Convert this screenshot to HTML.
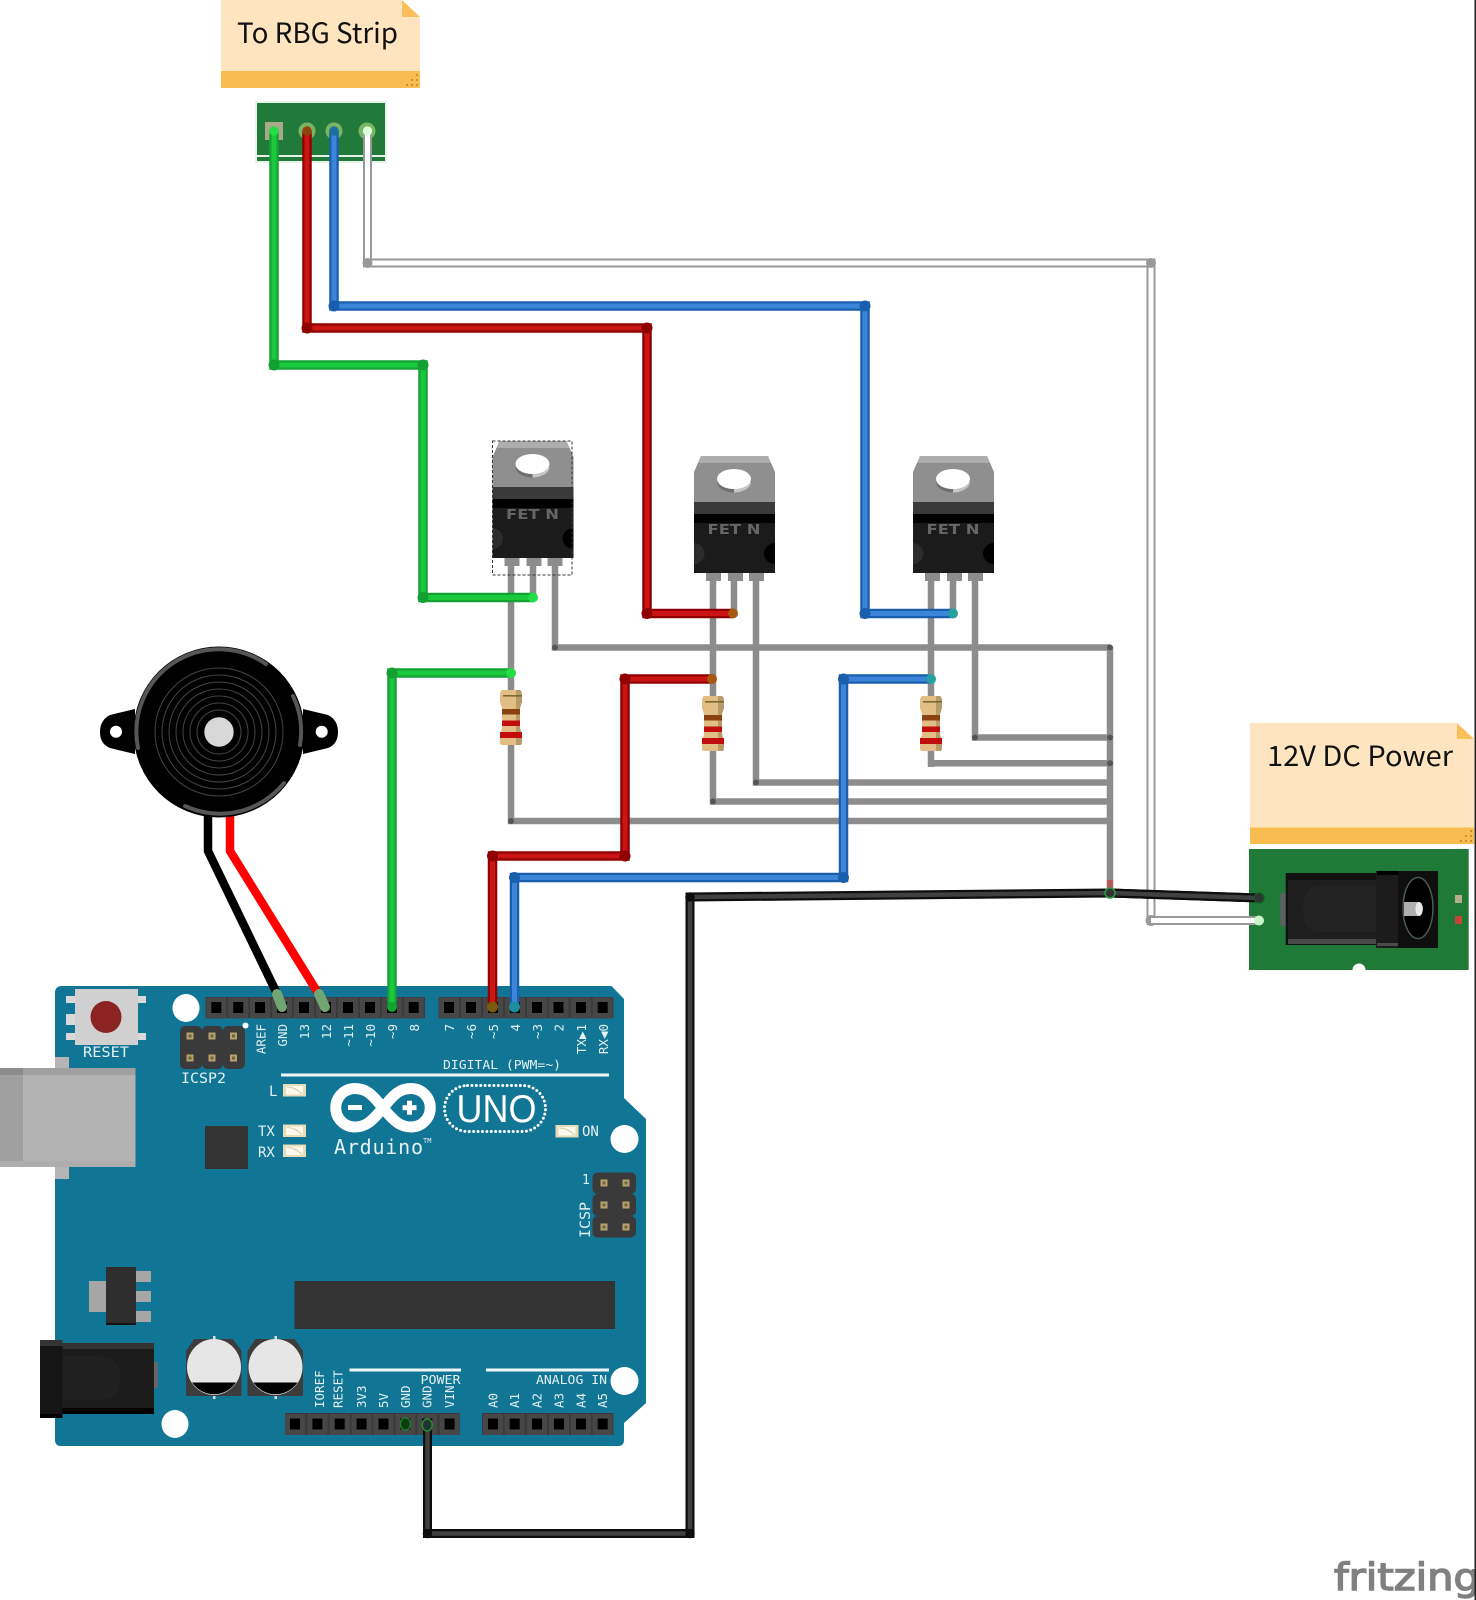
<!DOCTYPE html>
<html><head><meta charset="utf-8"><title>Fritzing diagram</title>
<style>
html,body{margin:0;padding:0;background:#fff}
svg{display:block}
.n{font-family:"Noto Sans CJK SC","Liberation Sans",sans-serif;font-size:28px;fill:#111}
.m{font-family:"DejaVu Sans Mono","Liberation Mono",monospace;fill:#e4f1f1;font-size:12.5px}
.g1{fill:none;stroke:#14a332;stroke-width:9.5}.g2{fill:none;stroke:#1cc93e;stroke-width:5}
.r1{fill:none;stroke:#8f0000;stroke-width:9.5}.r2{fill:none;stroke:#cc1414;stroke-width:5}
.b1{fill:none;stroke:#1a5fae;stroke-width:9.5}.b2{fill:none;stroke:#3d85d9;stroke-width:5}
.w1{fill:none;stroke:#999;stroke-width:9}.w2{fill:none;stroke:#fff;stroke-width:5}
.k1{fill:none;stroke:#0d0d0d;stroke-width:9}.k2{fill:none;stroke:#404040;stroke-width:4.5}
.e{fill:none;stroke:#8c8c8c;stroke-width:6.5}
</style></head><body>
<svg width="1476" height="1600" viewBox="0 0 1476 1600" xmlns="http://www.w3.org/2000/svg">
<defs>
<g id="p"><rect x="-10" y="-10" width="20" height="21" fill="#474747"/><rect x="-5" y="-5.5" width="10" height="11" fill="#000"/></g>
<g id="gp"><rect x="-3.5" y="-3.5" width="7" height="7" fill="#b7a26e"/><rect x="-1.5" y="-1.5" width="3" height="3" fill="#6f6443"/></g>
<g id="led"><rect width="23" height="12.5" fill="#e6dcb8"/><rect x="3" y="2" width="17" height="8.5" fill="#fbf8ee"/><path d="M4 3 Q12 3 19 10" fill="none" stroke="#d8c9a0" stroke-width="1"/></g>
<g id="res">
<path d="M-9,0 L9,0 Q11,1 11,6 L11,12 Q10,15 9,18 L9,38 Q10,42 11,46 L11,52 Q11,55 9,55 L-9,55 Q-11,55 -11,52 L-11,46 Q-10,42 -9,38 L-9,18 Q-10,15 -11,12 L-11,6 Q-11,1 -9,0Z" fill="#e2be84"/>
<path d="M5,0 L9,0 Q11,1 11,6 L11,12 Q10,15 9,18 L9,38 Q10,42 11,46 L11,52 Q11,55 9,55 L5,55Z" fill="#b79a6a"/>
<rect x="-8" y="5" width="19" height="1.6" fill="#7a6a30"/>
<rect x="-9" y="19" width="18" height="5.5" fill="#8a4210"/>
<rect x="-9" y="30.500" width="18" height="5.5" fill="#c20d0d"/>
<rect x="-11" y="42" width="22" height="6" fill="#c20d0d"/>
</g>
<g id="fet">
<rect x="12" y="117" width="15" height="8" fill="#8c8c8c"/><rect x="34" y="117" width="15" height="8" fill="#8c8c8c"/><rect x="55" y="117" width="15" height="8" fill="#8c8c8c"/>
<polygon points="0,16 7,0 74,0 81,16 81,46 0,46" fill="#8f8f8f"/>
<polygon points="7,0 74,0 77,7 4,7" fill="#adadad"/>
<ellipse cx="40" cy="26" rx="17" ry="10.500" fill="#6f6f6f"/>
<path d="M40,36.500 A17,10.500 0 0 0 57,26 L40,26Z" fill="#c6c6c6"/>
<ellipse cx="40" cy="23" rx="17" ry="10" fill="#fff"/>
<rect y="46" width="81" height="12.500" fill="#3a3a3a"/>
<rect y="58" width="81" height="9.500" fill="#000"/>
<rect y="67" width="81" height="50" fill="#1b1b1b"/>
<path d="M0,87 A10.500,10.500 0 0 1 0,108Z" fill="#2c2c2c"/>
<path d="M81,87 A11,10.500 0 0 0 81,108Z" fill="#000"/>
</g>
<g id="cap"><polygon points="8,0 47,0 55.500,12 55.500,57 0,57 0,12" fill="#3c3c3c"/><rect x="27" y="-3" width="2.500" height="3" fill="#ddd"/><rect x="27" y="57" width="2.500" height="3" fill="#ddd"/><ellipse cx="28" cy="28" rx="27" ry="28" fill="#e6e6e6"/><path d="M6,43.500 L50,43.500 A27,28 0 0 1 6,43.500Z" fill="#000"/></g>
</defs>

<rect width="1476" height="1600" fill="#fff"/>
<rect x="1474.500" y="0" width="1.500" height="1600" fill="#222"/>

<!-- Note 1 -->
<polygon points="221,0 402,0 420,18 420,88 221,88" fill="#fee5c0"/>
<polygon points="402,0 420,17 402,17" fill="#fbbf5c"/>
<rect x="221" y="71" width="199" height="17" fill="#f9bc50"/>
<g fill="#c98f3a"><rect x="416" y="74" width="2" height="2"/><rect x="411" y="79" width="2" height="2"/><rect x="416" y="79" width="2" height="2"/><rect x="406" y="84" width="2" height="2"/><rect x="411" y="84" width="2" height="2"/><rect x="416" y="84" width="2" height="2"/></g>
<text class="n" x="237" y="43" textLength="161" lengthAdjust="spacingAndGlyphs">To RBG Strip</text>

<!-- Strip header -->
<rect x="255" y="101" width="132" height="62" fill="#e6f4ea"/>
<rect x="257" y="103" width="128" height="58" fill="#217a39"/>
<rect x="257" y="155" width="128" height="2" fill="#e4f4e8"/>
<rect x="265" y="122" width="18" height="18" fill="#a9a98a"/>
<circle cx="307" cy="131" r="8.500" fill="#79b565"/><circle cx="334" cy="131" r="8.500" fill="#79b565"/><circle cx="367" cy="131" r="8.500" fill="#79b565"/>

<!-- Arduino -->
<path d="M62,986 L611.500,986 L624,999 L624,1098 L646,1119 L646,1403 L624,1423 L624,1440 Q624,1446 618,1446 L61,1446 Q55,1446 55,1440 L55,993 Q55,986 62,986Z" fill="#117595"/>
<!-- USB -->
<rect x="55" y="1057" width="14" height="122" fill="#b5b5b5"/>
<rect x="0" y="1068" width="135.500" height="99" fill="#b3b3b3"/>
<rect x="0" y="1068" width="23" height="99" fill="#a0a0a0"/>
<rect x="0" y="1068" width="135.500" height="7" fill="#a0a0a0"/>
<rect x="0" y="1068" width="23" height="7" fill="#8c8c8c"/>
<rect x="0" y="1161" width="135.500" height="6" fill="#adadad"/>
<!-- Reset -->
<g fill="#d9d9d9"><rect x="66" y="996" width="10" height="7"/><rect x="66" y="1014" width="10" height="11"/><rect x="66" y="1033" width="10" height="7"/><rect x="137" y="996" width="9" height="7"/><rect x="137" y="1033" width="9" height="7"/></g>
<rect x="75" y="989" width="63" height="56" fill="#d0d0d0"/>
<ellipse cx="106" cy="1017" rx="15.500" ry="16" fill="#8b2323"/>
<text class="m" x="106" y="1057" text-anchor="middle" font-size="14" style="font-size:14px" textLength="46" lengthAdjust="spacingAndGlyphs">RESET</text>
<!-- holes -->
<ellipse cx="186" cy="1008" rx="13.500" ry="14" fill="#fff"/>
<ellipse cx="624.500" cy="1139" rx="14" ry="14" fill="#fff"/>
<ellipse cx="175" cy="1424" rx="13.500" ry="14" fill="#fff"/>
<ellipse cx="624.500" cy="1381" rx="14" ry="14" fill="#fff"/>
<!-- Top headers -->
<rect x="205.500" y="997" width="219.500" height="21" fill="#3a3a3a"/>
<rect x="438.500" y="997" width="175" height="21" fill="#3a3a3a"/>
<use href="#p" x="216.300" y="1007.500"/><use href="#p" x="238.200" y="1007.500"/><use href="#p" x="260" y="1007.500"/><use href="#p" x="282" y="1007.500"/><use href="#p" x="304" y="1007.500"/><use href="#p" x="326" y="1007.500"/><use href="#p" x="348" y="1007.500"/><use href="#p" x="370" y="1007.500"/><use href="#p" x="392" y="1007.500"/><use href="#p" x="413.700" y="1007.500"/>
<use href="#p" x="449" y="1007.500"/><use href="#p" x="471" y="1007.500"/><use href="#p" x="493" y="1007.500"/><use href="#p" x="515" y="1007.500"/><use href="#p" x="537" y="1007.500"/><use href="#p" x="558.500" y="1007.500"/><use href="#p" x="581" y="1007.500"/><use href="#p" x="602.700" y="1007.500"/>
<!-- Top labels -->
<g class="m" text-anchor="end">
<text transform="translate(265.500,1024) rotate(-90)">AREF</text>
<text transform="translate(287,1024) rotate(-90)">GND</text>
<text transform="translate(309,1024) rotate(-90)">13</text>
<text transform="translate(331,1024) rotate(-90)">12</text>
<text transform="translate(353,1024) rotate(-90)">~11</text>
<text transform="translate(375,1024) rotate(-90)">~10</text>
<text transform="translate(397,1024) rotate(-90)">~9</text>
<text transform="translate(419,1024) rotate(-90)">8</text>
<text transform="translate(454,1024) rotate(-90)">7</text>
<text transform="translate(476,1024) rotate(-90)">~6</text>
<text transform="translate(498,1024) rotate(-90)">~5</text>
<text transform="translate(520,1024) rotate(-90)">4</text>
<text transform="translate(542,1024) rotate(-90)">~3</text>
<text transform="translate(563.500,1024) rotate(-90)">2</text>
<text transform="translate(586,1024) rotate(-90)">TX▶1</text>
<text transform="translate(608,1024) rotate(-90)">RX◀0</text>
</g>
<text class="m" x="443" y="1069" textLength="118" lengthAdjust="spacingAndGlyphs">DIGITAL (PWM=~)</text>
<rect x="281" y="1073.500" width="328" height="3" fill="#eef7f7"/>
<!-- ICSP2 -->
<rect x="180" y="1026" width="22" height="43" rx="5" fill="#3a3a3a"/><rect x="202" y="1026" width="21" height="43" rx="5" fill="#3a3a3a"/><rect x="223" y="1026" width="22" height="43" rx="5" fill="#3a3a3a"/>
<use href="#gp" x="190" y="1036"/><use href="#gp" x="212" y="1036"/><use href="#gp" x="233.500" y="1036"/><use href="#gp" x="190" y="1058"/><use href="#gp" x="212" y="1058"/><use href="#gp" x="233.500" y="1058"/>
<circle cx="245.500" cy="1025.500" r="3" fill="#fff"/>
<text class="m" x="181" y="1083" style="font-size:14px" textLength="45" lengthAdjust="spacingAndGlyphs">ICSP2</text>
<!-- LEDs -->
<use href="#led" x="283" y="1084"/><use href="#led" x="283" y="1124.500"/><use href="#led" x="283" y="1144.500"/><use href="#led" x="555.500" y="1125"/>
<text class="m" x="269" y="1096" style="font-size:14px">L</text>
<text class="m" x="258" y="1136" style="font-size:14px">TX</text>
<text class="m" x="258" y="1157" style="font-size:14px">RX</text>
<text class="m" x="582" y="1136" style="font-size:14px">ON</text>
<rect x="205" y="1126" width="43" height="43" fill="#333"/>
<!-- Logo -->
<path d="M383,1108 C372,1094 366,1088.500 355,1088.500 A19.250,19.250 0 1 0 355,1127 C366,1127 372,1121 383,1108 C394,1094 400,1088.500 411,1088.500 A19.250,19.250 0 1 1 411,1127 C400,1127 394,1121 383,1108Z" fill="none" stroke="#fff" stroke-width="11"/>
<rect x="348" y="1105" width="14" height="5" fill="#fff"/>
<rect x="402.500" y="1105.200" width="14" height="5" fill="#fff"/><rect x="407" y="1100.700" width="5" height="14" fill="#fff"/>
<rect x="444.500" y="1085.500" width="101" height="46" rx="23" fill="none" stroke="#fff" stroke-width="3" stroke-linecap="round" stroke-dasharray="0 4.400"/>
<text x="456.500" y="1122" font-family="'Liberation Sans',sans-serif" font-size="39" fill="#fff" textLength="80" lengthAdjust="spacingAndGlyphs">UNO</text>
<text class="m" x="334" y="1154" style="font-size:20px" textLength="89" lengthAdjust="spacing">Arduino</text>
<text class="m" x="423" y="1143" style="font-size:7px">TM</text>
<!-- ICSP -->
<rect x="592.500" y="1172.500" width="43.500" height="21.500" rx="5" fill="#3a3a3a"/><rect x="592.500" y="1194" width="43.500" height="22" rx="5" fill="#3a3a3a"/><rect x="592.500" y="1216" width="43.500" height="21.500" rx="5" fill="#3a3a3a"/>
<use href="#gp" x="604" y="1183"/><use href="#gp" x="626" y="1183"/><use href="#gp" x="604" y="1205"/><use href="#gp" x="626" y="1205"/><use href="#gp" x="604" y="1227"/><use href="#gp" x="626" y="1227"/>
<text class="m" x="582" y="1184" style="font-size:13px">1</text>
<text class="m" transform="translate(590,1238) rotate(-90)" style="font-size:14px" textLength="36" lengthAdjust="spacingAndGlyphs">ICSP</text>
<!-- Regulator, chip -->
<rect x="89" y="1281" width="17" height="31" fill="#a6a6a6"/>
<rect x="136" y="1271" width="15" height="11" fill="#a6a6a6"/><rect x="136" y="1291" width="15" height="11" fill="#a6a6a6"/><rect x="136" y="1311" width="15" height="11" fill="#a6a6a6"/>
<rect x="106" y="1267" width="30" height="58" fill="#2e2e2e"/><rect x="106" y="1323" width="30" height="2" fill="#111"/>
<rect x="294.500" y="1281" width="320.500" height="48" fill="#333"/>
<!-- Jack -->
<rect x="154" y="1362" width="4" height="26" fill="#666"/>
<rect x="62" y="1343" width="92" height="71" fill="#1c1c1c"/>
<rect x="62" y="1343" width="92" height="6" fill="#333"/>
<rect x="62" y="1408" width="92" height="6" fill="#000"/>
<path d="M62,1356 L100,1356 Q120,1356 120,1378 Q120,1400 100,1400 L62,1400Z" fill="#202020"/>
<rect x="40" y="1340" width="22.500" height="78" fill="#151515"/>
<rect x="40" y="1340" width="22.500" height="6" fill="#333"/>
<rect x="40" y="1414" width="22.500" height="4" fill="#000"/>
<!-- Caps -->
<use href="#cap" x="186" y="1339"/><use href="#cap" x="247.500" y="1339"/>
<!-- Bottom -->
<rect x="349.500" y="1368.500" width="111.500" height="3" fill="#eef7f7"/>
<rect x="486" y="1368.500" width="123" height="3" fill="#eef7f7"/>
<text class="m" x="420.500" y="1384" textLength="40" lengthAdjust="spacingAndGlyphs">POWER</text>
<text class="m" x="536" y="1384" textLength="71" lengthAdjust="spacingAndGlyphs">ANALOG IN</text>
<g class="m">
<text transform="translate(324,1408) rotate(-90)">IOREF</text>
<text transform="translate(342.500,1408) rotate(-90)">RESET</text>
<text transform="translate(366,1408) rotate(-90)">3V3</text>
<text transform="translate(388,1408) rotate(-90)">5V</text>
<text transform="translate(410,1408) rotate(-90)">GND</text>
<text transform="translate(431.500,1408) rotate(-90)">GND</text>
<text transform="translate(454,1408) rotate(-90)">VIN</text>
<text transform="translate(497.500,1408) rotate(-90)">A0</text>
<text transform="translate(519,1408) rotate(-90)">A1</text>
<text transform="translate(541.500,1408) rotate(-90)">A2</text>
<text transform="translate(563.500,1408) rotate(-90)">A3</text>
<text transform="translate(585.500,1408) rotate(-90)">A4</text>
<text transform="translate(607,1408) rotate(-90)">A5</text>
</g>
<rect x="285" y="1413" width="175" height="22" fill="#3a3a3a"/>
<rect x="482" y="1413" width="131.500" height="22" fill="#3a3a3a"/>
<use href="#p" x="295" y="1424"/><use href="#p" x="317.400" y="1424"/><use href="#p" x="339.700" y="1424"/><use href="#p" x="361.600" y="1424"/><use href="#p" x="383.500" y="1424"/><use href="#p" x="405.400" y="1424"/><use href="#p" x="427.200" y="1424"/><use href="#p" x="449.600" y="1424"/>
<use href="#p" x="493" y="1424"/><use href="#p" x="514.700" y="1424"/><use href="#p" x="537" y="1424"/><use href="#p" x="559" y="1424"/><use href="#p" x="581" y="1424"/><use href="#p" x="602.700" y="1424"/>
<ellipse cx="405.400" cy="1424" rx="5" ry="6" fill="#0a3d12" stroke="#1f7a2a" stroke-width="1.500"/>

<!-- Buzzer -->
<path d="M135,709 L110,715 Q100,720 100,732 Q100,744 110,748 L135,754Z" fill="#000"/>
<path d="M303,709 L328,715 Q338,720 338,732 Q338,744 328,748 L303,754Z" fill="#000"/>
<circle cx="116" cy="731.700" r="6" fill="#fff"/><circle cx="321.700" cy="731.700" r="6" fill="#fff"/>
<path d="M208,816 L208,851 L276.700,993" fill="none" stroke="#000" stroke-width="8.500"/>
<path d="M230,816 L230,851 L318,993" fill="none" stroke="#f00" stroke-width="8.500"/>
<circle cx="219" cy="732" r="85.500" fill="#000"/>
<g fill="none" stroke="#565656" stroke-width="4" stroke-linecap="round">
<path d="M138,748 A82.500,82.500 0 0 1 266,664"/>
<path d="M293,696 A82.500,82.500 0 0 1 300,745"/>
<path d="M284,783 A82.500,82.500 0 0 1 185,806"/>
</g>
<g fill="none" stroke="#444" stroke-width="1">
<circle cx="219" cy="732" r="64"/><circle cx="219" cy="732" r="57"/><circle cx="219" cy="732" r="50"/><circle cx="219" cy="732" r="43"/><circle cx="219" cy="732" r="36"/><circle cx="219" cy="732" r="29"/><circle cx="219" cy="732" r="22"/>
</g>
<circle cx="219" cy="732" r="14.700" fill="#d8d8d8"/>
<path d="M277,994 L282,1007" stroke="#71a673" stroke-width="10" stroke-linecap="round" fill="none"/>
<path d="M319,994 L325,1007" stroke="#71a673" stroke-width="10" stroke-linecap="round" fill="none"/>

<!-- Grey wiring -->
<g class="e">
<path class="e" d="M511,565 V821 H1107"/>
<path class="e" d="M533,565 V598"/>
<path class="e" d="M555,565 V647.500 H1110"/>
<path class="e" d="M713,580 V801.500 H1107"/>
<path class="e" d="M734,580 V613"/>
<path class="e" d="M756,580 V782.500 H1107"/>
<path class="e" d="M931,580 V767 M931,763.300 H1110"/>
<path class="e" d="M953,580 V613"/>
<path class="e" d="M975,580 V737.500 H1110"/>
<path class="e" d="M1110,647 V893"/>
</g>
<g fill="#555"><circle cx="555" cy="647.500" r="3"/><circle cx="511" cy="821" r="3"/><circle cx="713" cy="801.500" r="3"/><circle cx="756" cy="782.500" r="3"/><circle cx="975" cy="737.500" r="3"/><circle cx="1110" cy="737.500" r="3"/><circle cx="1110" cy="763.300" r="3"/><circle cx="1110" cy="647.500" r="3"/></g>
<rect x="1107" y="880" width="6" height="8" fill="#b85a5a"/>

<!-- FETs -->
<use href="#fet" x="492.500" y="441"/><use href="#fet" x="694" y="456"/><use href="#fet" x="913" y="456"/>
<g font-family="'DejaVu Sans','Liberation Sans',sans-serif" font-weight="bold" font-size="13" fill="#666" text-anchor="middle">
<text x="532.500" y="519" textLength="53" lengthAdjust="spacingAndGlyphs">FET N</text>
<text x="734" y="534" textLength="53" lengthAdjust="spacingAndGlyphs">FET N</text>
<text x="953" y="534" textLength="53" lengthAdjust="spacingAndGlyphs">FET N</text>
</g>
<rect x="492.500" y="441" width="79.500" height="134" fill="none" stroke="#333" stroke-width="1" stroke-dasharray="3 2"/>

<!-- Resistors -->
<use href="#res" x="511" y="690"/><use href="#res" x="713" y="696"/><use href="#res" x="931" y="696"/>

<!-- Coloured wires -->
<path class="g1" d="M274,131 V365 H423 V597.500 H533"/><path class="g2" d="M274,131 V365 H423 V597.500 H533"/>
<path class="g1" d="M392,1007 V673 H511"/><path class="g2" d="M392,1007 V673 H511"/>
<path class="r1" d="M307,131 V328 H647 V613.500 H733"/><path class="r2" d="M307,131 V328 H647 V613.500 H733"/>
<path class="r1" d="M492.500,1007 V856 H625 V679 H712"/><path class="r2" d="M492.500,1007 V856 H625 V679 H712"/>
<path class="b1" d="M334,131 V306 H865 V613.500 H953"/><path class="b2" d="M334,131 V306 H865 V613.500 H953"/>
<path class="b1" d="M514.500,1007 V877.500 H843.500 V679 H931"/><path class="b2" d="M514.500,1007 V877.500 H843.500 V679 H931"/>
<path class="w1" d="M367.500,131 V263 H1151 V920.500 H1259"/><path class="w2" d="M367.500,131 V263 H1151 V920.500 H1259"/>
<path class="k1" d="M427.500,1425 V1533.500 H690 V897 L1110,893 L1259,898"/><path class="k2" d="M427.500,1425 V1533.500 H690 V897 L1110,893 L1259,898"/>

<!-- Bendpoints -->
<g fill="#12a030"><circle cx="274" cy="365" r="5.500"/><circle cx="423" cy="365" r="5.500"/><circle cx="423" cy="597.500" r="5.500"/><circle cx="392" cy="673" r="5.500"/></g>
<g fill="#8f0000"><circle cx="307" cy="328" r="5.500"/><circle cx="647" cy="328" r="5.500"/><circle cx="647" cy="613.500" r="5.500"/><circle cx="625" cy="679" r="5.500"/><circle cx="492.500" cy="856" r="5.500"/><circle cx="625" cy="856" r="5.500"/></g>
<g fill="#1a5fae"><circle cx="334" cy="306" r="5.500"/><circle cx="865" cy="306" r="5.500"/><circle cx="865" cy="613.500" r="5.500"/><circle cx="843.500" cy="679" r="5.500"/><circle cx="514.500" cy="877.500" r="5.500"/><circle cx="843.500" cy="877.500" r="5.500"/></g>
<g fill="#999"><circle cx="367.500" cy="263" r="5"/><circle cx="1151" cy="263" r="5"/><circle cx="1151" cy="920.500" r="5.500"/></g>
<g fill="#0d0d0d"><circle cx="427.500" cy="1533.500" r="4.800"/><circle cx="690" cy="1533.500" r="4.800"/><circle cx="690" cy="897" r="4.800"/></g>
<!-- Connection ends -->
<circle cx="274" cy="131" r="4.700" fill="#22dd44"/>
<circle cx="307" cy="131" r="4.700" fill="#8f4410"/>
<circle cx="334" cy="131" r="4.700" fill="#1c6f9f"/>
<circle cx="367.500" cy="131" r="4.700" fill="#d8ffd8"/>
<circle cx="533" cy="597.500" r="5" fill="#22dd44"/>
<circle cx="511" cy="673" r="5" fill="#22dd44"/>
<circle cx="733" cy="613.500" r="5" fill="#a6580f"/>
<circle cx="712" cy="679" r="5" fill="#a6580f"/>
<circle cx="953" cy="613.500" r="5" fill="#25a0a0"/>
<circle cx="931" cy="679" r="5" fill="#25a0a0"/>
<circle cx="392" cy="1007" r="5" fill="#14a332"/>
<circle cx="492.500" cy="1007" r="5.500" fill="#7a5a10"/>
<circle cx="514.500" cy="1007" r="5.500" fill="#1c8f9f"/>
<ellipse cx="427.200" cy="1425" rx="5" ry="6" fill="#233" stroke="#2a8a30" stroke-width="1.500"/>

<!-- Note 2 -->
<polygon points="1250,723 1457,723 1474,740 1474,844 1250,844" fill="#fee5c0"/>
<polygon points="1457,723 1474,739 1457,739" fill="#fbbf5c"/>
<rect x="1250" y="827.500" width="224" height="16.500" fill="#f9bc50"/>
<g fill="#c98f3a"><rect x="1470" y="830" width="2" height="2"/><rect x="1465" y="835" width="2" height="2"/><rect x="1470" y="835" width="2" height="2"/><rect x="1460" y="840" width="2" height="2"/><rect x="1465" y="840" width="2" height="2"/><rect x="1470" y="840" width="2" height="2"/></g>
<text class="n" x="1267" y="766" textLength="186" lengthAdjust="spacingAndGlyphs">12V DC Power</text>

<!-- DC board -->
<path d="M1249,849 H1468.700 V970 H1365.500 A6.500,6.500 0 0 0 1352.500,970 H1249Z" fill="#1f7a38"/>
<rect x="1280.500" y="893" width="5.500" height="33" fill="#5f5f5f"/>
<rect x="1285.700" y="873" width="91" height="72" fill="#111"/>
<rect x="1288" y="880" width="88" height="62" fill="#1e1e1e"/>
<rect x="1288" y="939" width="88" height="5" fill="#4a4a4a"/>
<path d="M1320,886 H1376 V932 H1320 Q1303,932 1303,909 Q1303,886 1320,886Z" fill="#232323"/>
<rect x="1376" y="871" width="62" height="77" fill="#0f0f0f"/>
<rect x="1376" y="871" width="22" height="77" fill="#1c1c1c"/>
<rect x="1377" y="871" width="21" height="4" fill="#000"/>
<rect x="1377" y="943" width="21" height="3" fill="#4a4a4a"/>
<ellipse cx="1418" cy="908" rx="15" ry="30.500" fill="#000" stroke="#4c5c4f" stroke-width="1.500"/>
<path d="M1404,902 H1419 A4,7 0 0 1 1419,916 H1404Z" fill="#b0b0b0"/>
<ellipse cx="1419" cy="909" rx="3.500" ry="7" fill="#e8e8e8"/>
<rect x="1455" y="895" width="7" height="8" fill="#b5ad8b"/>
<rect x="1455" y="916" width="7" height="8" fill="#c8443a"/>
<!-- redraw wire ends on board -->
<path class="k1" d="M1110,893 L1259,898"/><path class="k2" d="M1110,893 L1259,898"/>
<circle cx="1259" cy="898" r="4.800" fill="#333" stroke="#0a5a20" stroke-width="1.500"/>
<path class="w1" d="M1151,920.500 H1259"/><path class="w2" d="M1151,920.500 H1259"/>
<circle cx="1259" cy="920.500" r="5" fill="#c9f5c9"/>
<circle cx="1110" cy="893" r="5" fill="#333" stroke="#2a9a40" stroke-width="1.500"/>

<!-- Logo -->
<text x="1334" y="1590" font-family="'DejaVu Sans','Liberation Sans',sans-serif" font-size="37" fill="#808080" stroke="#808080" stroke-width="1.400" textLength="146" lengthAdjust="spacingAndGlyphs">fritzing</text>
<rect x="1474.500" y="1500" width="1.500" height="100" fill="#222"/>
</svg>
</body></html>
